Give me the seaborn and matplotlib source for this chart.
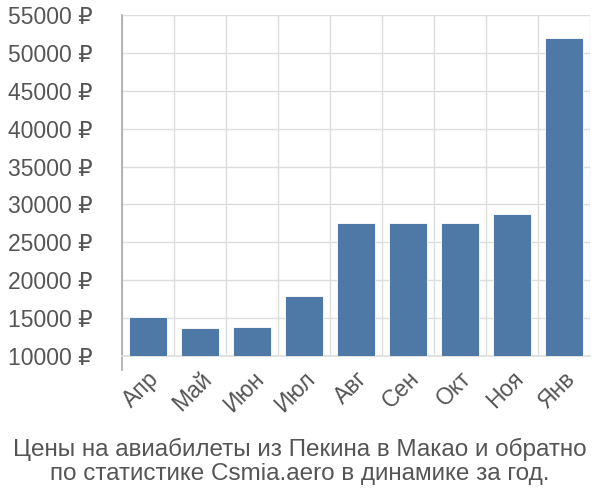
import matplotlib
matplotlib.use("Agg")
import matplotlib.pyplot as plt
import seaborn as sns
import pandas as pd
import numpy as np

months = ["Апр", "Май", "Июн", "Июл", "Авг", "Сен", "Окт", "Ноя", "Янв"]
prices = [15200, 13700, 13800, 17950, 27500, 27500, 27500, 28700, 52000]
yticks = [10000, 15000, 20000, 25000, 30000, 35000, 40000, 45000, 50000, 55000]
title = "Цены на авиабилеты из Пекина в Макао и обратно\nпо статистике Csmia.aero в динамике за год."

sns.set_theme(style="white")
plt.rcParams['font.family'] = ['Liberation Sans', 'DejaVu Sans']

df = pd.DataFrame({"month": months, "price": prices})

fig = plt.figure(figsize=(6, 5), dpi=100)
ax = fig.add_axes([0.203, 0.288, 0.78, 0.682])

sns.barplot(data=df, x="month", y="price", color="#4e79a7", width=0.73,
            saturation=1, ax=ax, zorder=3, edgecolor="white", linewidth=0.6)

ax.set_ylim(10000, 55000)
ax.set_xlim(-0.5, len(months) - 0.5)
ax.set_yticks(yticks)
ax.set_yticklabels([f"{v} ₽" for v in yticks])
ax.set_xticks(np.arange(len(months)))
ax.set_xticklabels(months, rotation=45, ha="right", rotation_mode="anchor")
ax.set_xticks(np.arange(len(months) + 1) - 0.5, minor=True)

ax.tick_params(axis="x", which="major", length=0, pad=8, labelsize=16.5, labelcolor="#555555")
ax.tick_params(axis="x", which="minor", length=14, color="#dddddd", width=1)
ax.tick_params(axis="y", which="major", length=20, color="#dddddd", width=1, pad=1,
               labelsize=16.5, labelcolor="#555555")

ax.grid(axis="y", which="major", color="#dddddd", linewidth=1, zorder=0)
ax.grid(axis="x", which="minor", color="#dddddd", linewidth=1, zorder=0)
ax.set_axisbelow(True)

for s in ["top", "right"]:
    ax.spines[s].set_visible(False)
ax.spines["left"].set_color("#aaaaaa")
ax.spines["left"].set_linewidth(1.2)
ax.spines["bottom"].set_color("#dddddd")
ax.spines["left"].set_bounds(10000 - 1800, 55000)
ax.spines["left"].set_clip_on(False)

ax.set_xlabel("")
ax.set_ylabel("")

fig.text(0.5, 0.03, title, ha="center", va="bottom", fontsize=17.5,
         color="#555555", linespacing=1.1)

fig.savefig("out.png", dpi=100)
